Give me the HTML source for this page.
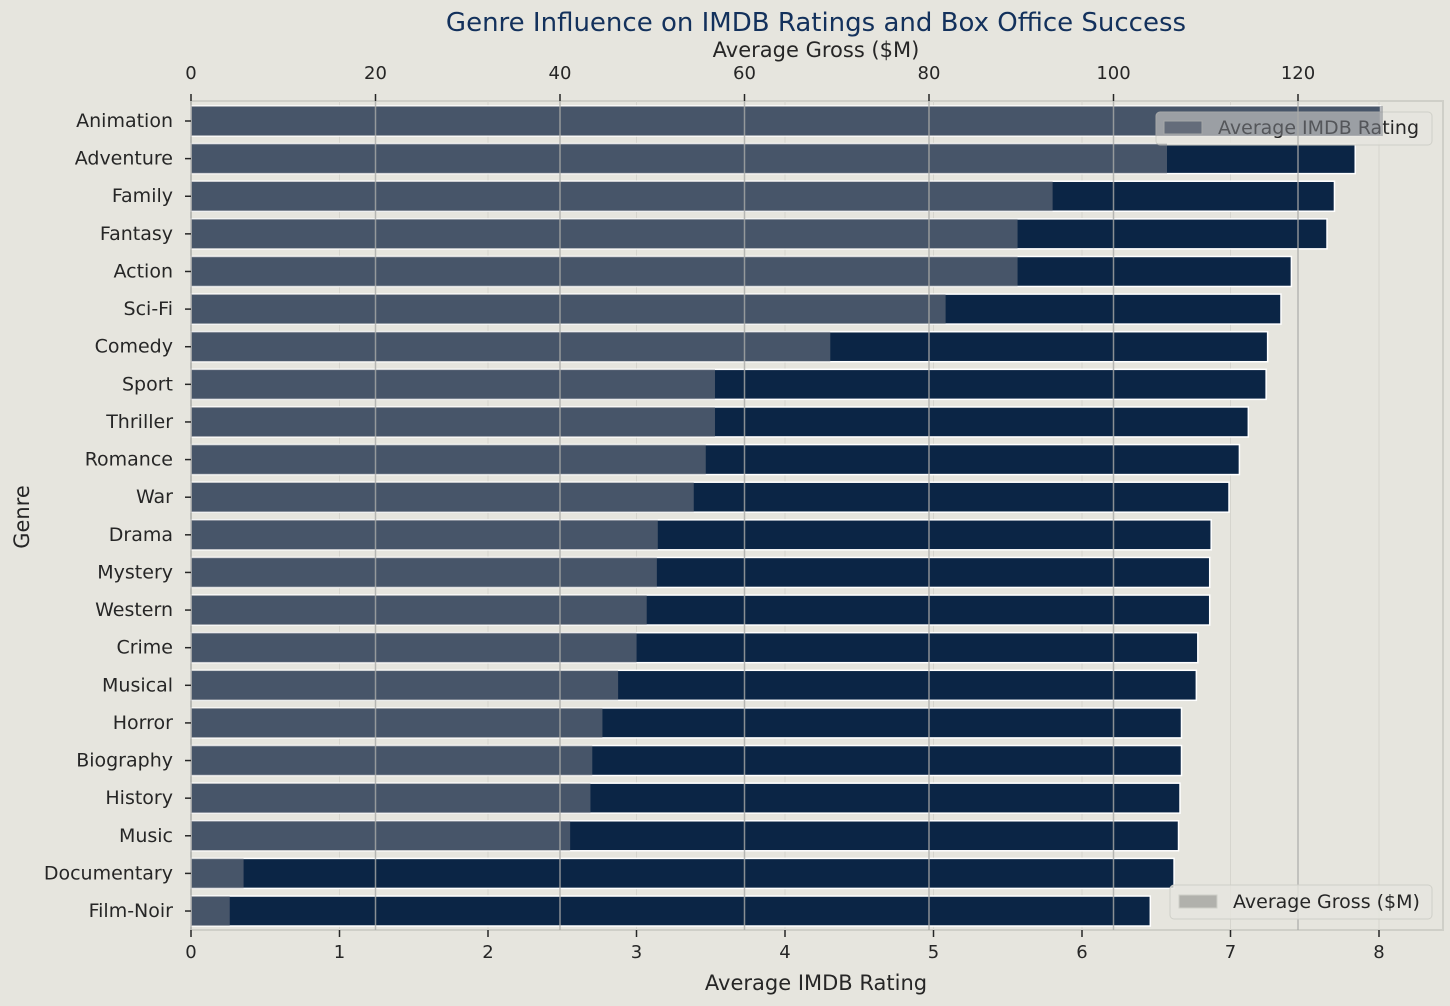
<!DOCTYPE html>
<html><head><meta charset="utf-8"><style>
body{margin:0;background:#e6e5de;}
svg{display:block;font-family:"DejaVu Sans","Liberation Sans",sans-serif;}
</style></head><body>
<svg id="c" width="1450" height="1006"></svg>
<script>
const genres=["Animation","Adventure","Family","Fantasy","Action","Sci-Fi","Comedy","Sport","Thriller","Romance","War","Drama","Mystery","Western","Crime","Musical","Horror","Biography","History","Music","Documentary","Film-Noir"];
const ratings=[8.01,7.84,7.70,7.65,7.41,7.34,7.25,7.24,7.12,7.06,6.99,6.87,6.86,6.86,6.78,6.77,6.67,6.67,6.66,6.65,6.62,6.46];
const gross=[129.2,105.8,93.4,89.6,89.6,81.8,69.3,56.8,56.8,55.8,54.5,50.6,50.5,49.4,48.3,46.3,44.6,43.5,43.3,41.1,5.7,4.2];
const ratingTicks=[0,1,2,3,4,5,6,7,8];
const grossTicks=[0,20,40,60,80,100,120];

const svg=document.getElementById('c');
const NS='http://www.w3.org/2000/svg';
function mk(t,a,p){const e=document.createElementNS(NS,t);for(const k in a)e.setAttribute(k,a[k]);(p||svg).appendChild(e);return e;}
const L=191,R=1443,T=101,B=930;
const xr=v=>L+v*148.5;
const xg=v=>L+v*9.225;
const yc=i=>121+i*37.62;
const bh=30;

const fr=mk('rect',{x:L,y:T,width:R-L,height:B-T,fill:'none',stroke:'#cfcfc8','stroke-width':2});

ratingTicks.forEach(t=>{const g=mk('line',{x1:xr(t),x2:xr(t),y1:T,y2:B,stroke:'#d6d5ce','stroke-width':1});
});

genres.forEach((g,i)=>{const r=mk('rect',{x:L,y:yc(i)-bh/2,width:xr(ratings[i])-L,height:bh,fill:'#0b2545',stroke:'#ffffff','stroke-width':1.5});
});

const lg1=mk('g',{});
mk('rect',{x:1156,y:112,width:276,height:33,rx:4,fill:'#e6e5de','fill-opacity':0.8,stroke:'#cfcfc8'},lg1);
mk('rect',{x:1164,y:121,width:38,height:13,fill:'#47556a',stroke:'#cfcfc8'},lg1);
const t1=mk('text',{x:1218,y:134,'font-size':19,fill:'#262626'},lg1);t1.textContent='Average IMDB Rating';

genres.forEach((g,i)=>{const r=mk('rect',{x:L,y:yc(i)-bh/2,width:xg(gross[i])-L,height:bh,fill:'rgb(127,130,138)','fill-opacity':0.52});
});

grossTicks.forEach(t=>{const g=mk('line',{x1:xg(t),x2:xg(t),y1:T,y2:B,stroke:'#a9aaa8','stroke-width':1.5,'stroke-opacity':0.8});
});

const lg2=mk('g',{});
mk('rect',{x:1170,y:885,width:262,height:34,rx:4,fill:'#e6e5de','fill-opacity':0.8,stroke:'#cfcfc8'},lg2);
mk('rect',{x:1179,y:895,width:38,height:13,fill:'#b1b1ac',stroke:'#cfcfc8'},lg2);
const t2=mk('text',{x:1233,y:908,'font-size':19,fill:'#262626'},lg2);t2.textContent='Average Gross ($M)';

genres.forEach((g,i)=>{mk('line',{x1:L-6,x2:L,y1:yc(i),y2:yc(i),stroke:'#262626','stroke-width':1.5});
const t=mk('text',{x:L-18,y:yc(i)+6,'font-size':19,fill:'#262626','text-anchor':'end'});t.textContent=g;
});
ratingTicks.forEach(v=>{mk('line',{x1:xr(v),x2:xr(v),y1:B,y2:B+7,stroke:'#262626','stroke-width':1.5});
const t=mk('text',{x:xr(v),y:B+28,'font-size':18,fill:'#262626','text-anchor':'middle'});t.textContent=v;
});
grossTicks.forEach(v=>{mk('line',{x1:xg(v),x2:xg(v),y1:T-7,y2:T,stroke:'#262626','stroke-width':1.5});
const t=mk('text',{x:xg(v),y:T-22,'font-size':18,fill:'#262626','text-anchor':'middle'});t.textContent=v;
});

const xt=mk('text',{x:816,y:990,'font-size':21,fill:'#262626','text-anchor':'middle'});xt.textContent='Average IMDB Rating';

const xt2=mk('text',{x:816,y:57,'font-size':21,fill:'#262626','text-anchor':'middle'});xt2.textContent='Average Gross ($M)';

const yt=mk('text',{x:29,y:517,'font-size':21,fill:'#262626','text-anchor':'middle',transform:'rotate(-90 29 517)'});yt.textContent='Genre';

const tt=mk('text',{x:816,y:31,'font-size':26,fill:'#13315c','text-anchor':'middle'});tt.textContent='Genre Influence on IMDB Ratings and Box Office Success';

</script>
</body></html>
